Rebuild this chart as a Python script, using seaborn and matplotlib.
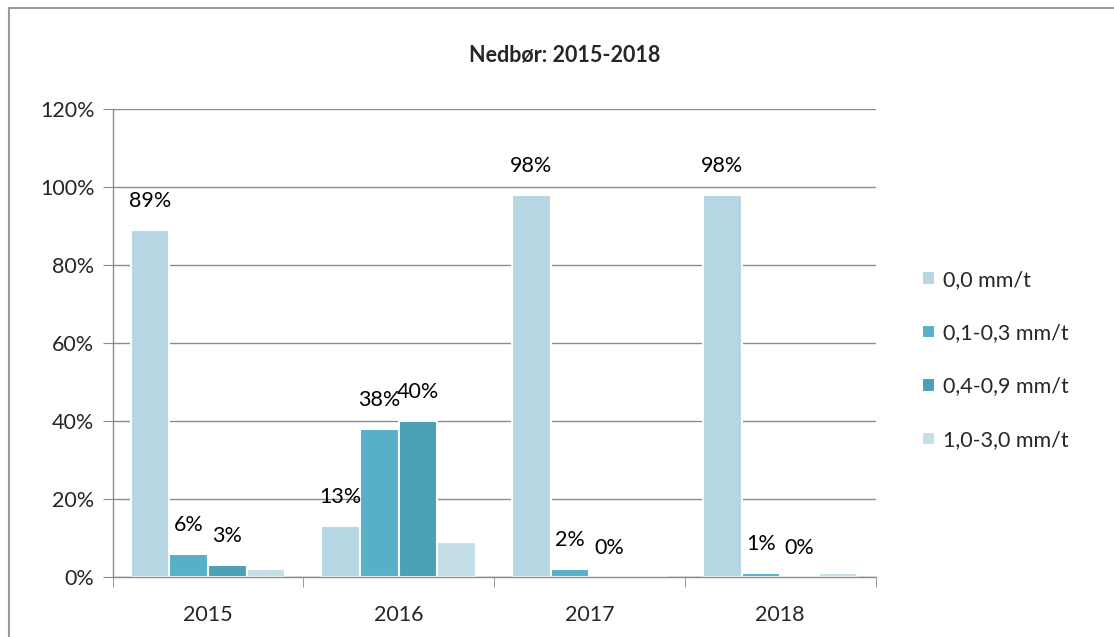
import pandas as pd
import matplotlib.pyplot as plt
import seaborn as sns
from matplotlib.lines import Line2D
from matplotlib.ticker import MultipleLocator, FixedLocator

# Data
years = ["2015", "2016", "2017", "2018"]
series = ["0,0 mm/t", "0,1-0,3 mm/t", "0,4-0,9 mm/t", "1,0-3,0 mm/t"]
s00 = [89, 13, 98, 98]
s01 = [6, 38, 2, 1]
s04 = [3, 40, 0, 0]
s10 = [2, 9, 0, 1]
colors = ["#B7D6E3", "#55B0C8", "#4AA0B5", "#C4DFE8"]
labelled = [True, True, True, False]

rows = []
for name, vals in zip(series, [s00, s01, s04, s10]):
    for y, v in zip(years, vals):
        rows.append({"year": y, "serie": name, "pct": v})
df = pd.DataFrame(rows)

sns.set_style("white")
plt.rcParams["font.family"] = ["Lato", "DejaVu Sans"]
fs = 15.5

fig = plt.figure(figsize=(11.14, 6.37), dpi=100)
ax = fig.add_axes([0.101, 0.094, 0.685, 0.735])

sns.barplot(data=df, x="year", y="pct", hue="serie", palette=colors,
            saturation=1, width=0.81, edgecolor="white", linewidth=1.5, ax=ax)

# data labels (not for the last series)
for cont, show in zip(ax.containers, labelled):
    if not show:
        continue
    for bar in cont:
        h = bar.get_height()
        ax.annotate(f"{h:.0f}%", (bar.get_x() + bar.get_width() / 2, h),
                    xytext=(0, 21), textcoords="offset points",
                    ha="center", va="center", fontsize=fs, color="black")

ax.set_ylim(0, 120)
ax.yaxis.set_major_locator(MultipleLocator(20))
ax.set_yticklabels([f"{int(t)}%" for t in ax.get_yticks()])
ax.set_xlim(-0.5, 3.5)
ax.set_xlabel("")
ax.set_ylabel("")
ax.grid(axis="y", color="#8C8C8C", linewidth=1)
ax.set_axisbelow(True)

for s in ["top", "right"]:
    ax.spines[s].set_visible(False)
for s in ["left", "bottom"]:
    ax.spines[s].set_color("#8C8C8C")
    ax.spines[s].set_linewidth(1)

ax.tick_params(axis="y", which="major", length=7, color="#8C8C8C",
               labelsize=fs, left=True, pad=6)
ax.tick_params(axis="x", which="major", length=0, labelsize=fs, pad=20)
ax.xaxis.set_minor_locator(FixedLocator([-0.5, 0.5, 1.5, 2.5, 3.5]))
ax.tick_params(axis="x", which="minor", length=7, color="#8C8C8C", bottom=True)

leg = ax.legend(loc="center left", bbox_to_anchor=(1.035, 0.464), frameon=False,
                fontsize=fs, handlelength=0.6, handleheight=0.6,
                handletextpad=0.4, labelspacing=1.55)

fig.text(0.507, 0.913, "Nedbør: 2015-2018", ha="center", va="center",
         fontsize=fs, fontweight="bold")

# chart frame
fig.add_artist(Line2D([9 / 1114, 9 / 1114], [0, 1 - 8 / 637], transform=fig.transFigure,
                      color="#9A9A9A", linewidth=1.5))
fig.add_artist(Line2D([9 / 1114, 1], [1 - 8 / 637, 1 - 8 / 637], transform=fig.transFigure,
                      color="#9A9A9A", linewidth=1.5))

fig.savefig("out.png", dpi=100)
